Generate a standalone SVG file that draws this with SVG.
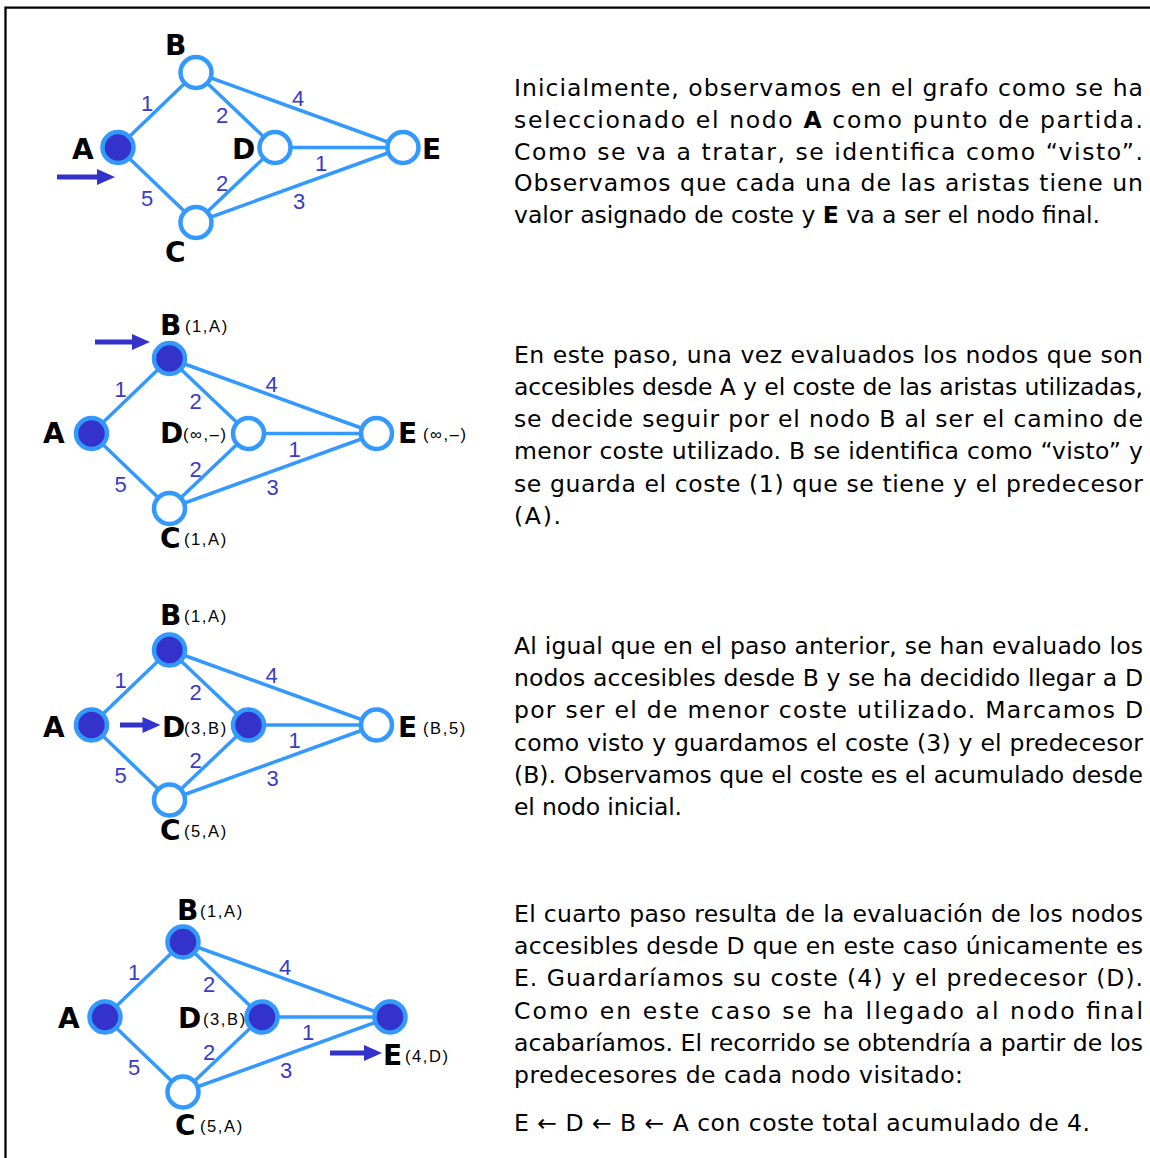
<svg xmlns="http://www.w3.org/2000/svg" width="1150" height="1158" viewBox="0 0 1150 1158">
  <style>
    .frame { stroke: #000; stroke-width: 2.3; fill: none; }
    .edge { stroke: #3399ff; stroke-width: 3.5; fill: none; }
    .node { stroke: #3399ff; stroke-width: 4.5; fill: #fff; }
    .node.seen { fill: #3333cc; }
    .nlabel { font-family: "DejaVu Sans", "Liberation Sans", sans-serif; font-weight: bold; font-size: 28px; fill: #000; }
    .info { font-family: "Liberation Sans", "DejaVu Sans", sans-serif; font-size: 16.5px; letter-spacing: 1.6px; fill: #000; }
    .cost { font-family: "Liberation Sans", "DejaVu Sans", sans-serif; font-size: 22px; fill: #3a3ac8; text-anchor: middle; }
    .arrow { fill: #3333cc; }
    .para { font-family: "DejaVu Sans", "Liberation Sans", sans-serif; font-size: 23.5px; fill: #000; }
    .para .b { font-weight: bold; }
  </style>
  <defs>
    <!-- shared graph layout: node A at the local origin -->
    <g id="edges">
      <line x1="0" y1="0" x2="78" y2="-75"/>
      <line x1="0" y1="0" x2="78" y2="75"/>
      <line x1="78" y1="-75" x2="157" y2="0"/>
      <line x1="78" y1="-75" x2="285" y2="0"/>
      <line x1="157" y1="0" x2="285" y2="0"/>
      <line x1="78" y1="75" x2="157" y2="0"/>
      <line x1="78" y1="75" x2="285" y2="0"/>
    </g>
    <g id="costs">
      <text x="29" y="-37">1</text>
      <text x="104" y="-25">2</text>
      <text x="180" y="-42">4</text>
      <text x="203" y="23">1</text>
      <text x="104" y="43">2</text>
      <text x="181" y="61">3</text>
      <text x="29" y="58">5</text>
    </g>
  </defs>

  <!-- frame: top and left rules only -->
  <path class="frame" d="M5.5,7.7 H1150 M5.5,6.6 V1158"/>

  <!-- step 1 -->
  <g id="step1" transform="translate(118,147.5)">
    <g id="step1-connectors" class="edge"><use href="#edges"/></g>
    <g class="cost"><use href="#costs"/></g>
    <g id="step1-A"><circle class="node seen" cx="0" cy="0" r="15.5"/><text class="nlabel" x="-46" y="11">A</text></g>
    <g id="step1-B"><circle class="node" cx="78" cy="-75" r="15.5"/><text class="nlabel" x="47" y="-92.5">B</text></g>
    <g id="step1-D"><circle class="node" cx="157" cy="0" r="15.5"/><text class="nlabel" x="114" y="11.5">D</text></g>
    <g id="step1-E"><circle class="node" cx="285" cy="0" r="15.5"/><text class="nlabel" x="304" y="11.5">E</text></g>
    <g id="step1-C"><circle class="node" cx="78" cy="75" r="15.5"/><text class="nlabel" x="47" y="114.5">C</text></g>
    <g id="step1-pointer" class="arrow"><rect x="-61" y="27" width="44" height="5"/><path d="M-21,21.5 L-3,29.5 L-21,37.5 Z"/></g>
  </g>

  <!-- step 2 -->
  <g id="step2" transform="translate(91.5,433.5)">
    <g id="step2-connectors" class="edge"><use href="#edges"/></g>
    <g class="cost"><use href="#costs"/></g>
    <g id="step2-A"><circle class="node seen" cx="0" cy="0" r="15.5"/><text class="nlabel" x="-48.5" y="9.5">A</text></g>
    <g id="step2-B"><circle class="node seen" cx="78" cy="-75" r="15.5"/><text class="nlabel" x="68.5" y="-98.5">B</text><text class="info" x="93.5" y="-101.5">(1,A)</text></g>
    <g id="step2-D"><circle class="node" cx="157" cy="0" r="15.5"/><text class="nlabel" x="68.5" y="9.5">D</text><text class="info" x="91.5" y="6.5">(∞,–)</text></g>
    <g id="step2-E"><circle class="node" cx="285" cy="0" r="15.5"/><text class="nlabel" x="306.5" y="9.5">E</text><text class="info" x="331.5" y="6.5">(∞,–)</text></g>
    <g id="step2-C"><circle class="node" cx="78" cy="75" r="15.5"/><text class="nlabel" x="68.5" y="114.5">C</text><text class="info" x="92.5" y="111.5">(1,A)</text></g>
    <g id="step2-pointer" class="arrow"><rect x="3.5" y="-94" width="40" height="5"/><path d="M40.5,-99.5 L58.5,-91.5 L40.5,-83.5 Z"/></g>
  </g>

  <!-- step 3 -->
  <g id="step3" transform="translate(91.5,725)">
    <g id="step3-connectors" class="edge"><use href="#edges"/></g>
    <g class="cost"><use href="#costs"/></g>
    <g id="step3-A"><circle class="node seen" cx="0" cy="0" r="15.5"/><text class="nlabel" x="-48.5" y="12">A</text></g>
    <g id="step3-B"><circle class="node seen" cx="78" cy="-75" r="15.5"/><text class="nlabel" x="68.5" y="-100">B</text><text class="info" x="92.5" y="-103">(1,A)</text></g>
    <g id="step3-D"><circle class="node seen" cx="157" cy="0" r="15.5"/><text class="nlabel" x="70.5" y="12">D</text><text class="info" x="92.5" y="9">(3,B)</text></g>
    <g id="step3-E"><circle class="node" cx="285" cy="0" r="15.5"/><text class="nlabel" x="306.5" y="12">E</text><text class="info" x="331.5" y="9">(B,5)</text></g>
    <g id="step3-C"><circle class="node" cx="78" cy="75" r="15.5"/><text class="nlabel" x="68.5" y="115">C</text><text class="info" x="92.5" y="112">(5,A)</text></g>
    <g id="step3-pointer" class="arrow"><rect x="28.5" y="-2.5" width="26" height="5"/><path d="M51,-8 L69,0 L51,8 Z"/></g>
  </g>

  <!-- step 4 -->
  <g id="step4" transform="translate(105,1017)">
    <g id="step4-connectors" class="edge"><use href="#edges"/></g>
    <g class="cost"><use href="#costs"/></g>
    <g id="step4-A"><circle class="node seen" cx="0" cy="0" r="15.5"/><text class="nlabel" x="-47" y="11">A</text></g>
    <g id="step4-B"><circle class="node seen" cx="78" cy="-75" r="15.5"/><text class="nlabel" x="72" y="-97">B</text><text class="info" x="95" y="-100">(1,A)</text></g>
    <g id="step4-D"><circle class="node seen" cx="157" cy="0" r="15.5"/><text class="nlabel" x="73" y="11">D</text><text class="info" x="98" y="8">(3,B)</text></g>
    <g id="step4-E"><circle class="node seen" cx="285" cy="0" r="15.5"/><text class="nlabel" x="278" y="48">E</text><text class="info" x="300" y="45">(4,D)</text></g>
    <g id="step4-C"><circle class="node" cx="78" cy="75" r="15.5"/><text class="nlabel" x="70" y="118">C</text><text class="info" x="95" y="115">(5,A)</text></g>
    <g id="step4-pointer" class="arrow"><rect x="225" y="33.5" width="38" height="5"/><path d="M259,28 L277,36 L259,44 Z"/></g>
  </g>

  <!-- explanations -->
  <g class="para">
    <text x="514" y="96" textLength="629" lengthAdjust="spacing">Inicialmente, observamos en el grafo como se ha</text>
    <text x="514" y="128" textLength="629" lengthAdjust="spacing">seleccionado el nodo <tspan class="b">A</tspan> como punto de partida.</text>
    <text x="514" y="160" textLength="629" lengthAdjust="spacing">Como se va a tratar, se identifica como “visto”.</text>
    <text x="514" y="191" textLength="629" lengthAdjust="spacing">Observamos que cada una de las aristas tiene un</text>
    <text x="514" y="223" textLength="586" lengthAdjust="spacing">valor asignado de coste y <tspan class="b">E</tspan> va a ser el nodo final.</text>

    <text x="514" y="363" textLength="629" lengthAdjust="spacing">En este paso, una vez evaluados los nodos que son</text>
    <text x="514" y="395" textLength="629" lengthAdjust="spacing">accesibles desde A y el coste de las aristas utilizadas,</text>
    <text x="514" y="427" textLength="629" lengthAdjust="spacing">se decide seguir por el nodo B al ser el camino de</text>
    <text x="514" y="459" textLength="629" lengthAdjust="spacing">menor coste utilizado. B se identifica como “visto” y</text>
    <text x="514" y="492" textLength="629" lengthAdjust="spacing">se guarda el coste (1) que se tiene y el predecesor</text>
    <text x="514" y="524" textLength="47" lengthAdjust="spacing">(A).</text>

    <text x="514" y="654" textLength="629" lengthAdjust="spacing">Al igual que en el paso anterior, se han evaluado los</text>
    <text x="514" y="686" textLength="629" lengthAdjust="spacing">nodos accesibles desde B y se ha decidido llegar a D</text>
    <text x="514" y="718" textLength="629" lengthAdjust="spacing">por ser el de menor coste utilizado. Marcamos D</text>
    <text x="514" y="751" textLength="629" lengthAdjust="spacing">como visto y guardamos el coste (3) y el predecesor</text>
    <text x="514" y="783" textLength="629" lengthAdjust="spacing">(B). Observamos que el coste es el acumulado desde</text>
    <text x="514" y="815" textLength="168" lengthAdjust="spacing">el nodo inicial.</text>

    <text x="514" y="922" textLength="629" lengthAdjust="spacing">El cuarto paso resulta de la evaluación de los nodos</text>
    <text x="514" y="954" textLength="629" lengthAdjust="spacing">accesibles desde D que en este caso únicamente es</text>
    <text x="514" y="986" textLength="629" lengthAdjust="spacing">E. Guardaríamos su coste (4) y el predecesor (D).</text>
    <text x="514" y="1019" textLength="629" lengthAdjust="spacing">Como en este caso se ha llegado al nodo final</text>
    <text x="514" y="1051" textLength="629" lengthAdjust="spacing">acabaríamos. El recorrido se obtendría a partir de los</text>
    <text x="514" y="1083" textLength="449" lengthAdjust="spacing">predecesores de cada nodo visitado:</text>
    <text x="514" y="1131" textLength="576" lengthAdjust="spacing">E ← D ← B ← A con coste total acumulado de 4.</text>
  </g>
</svg>
